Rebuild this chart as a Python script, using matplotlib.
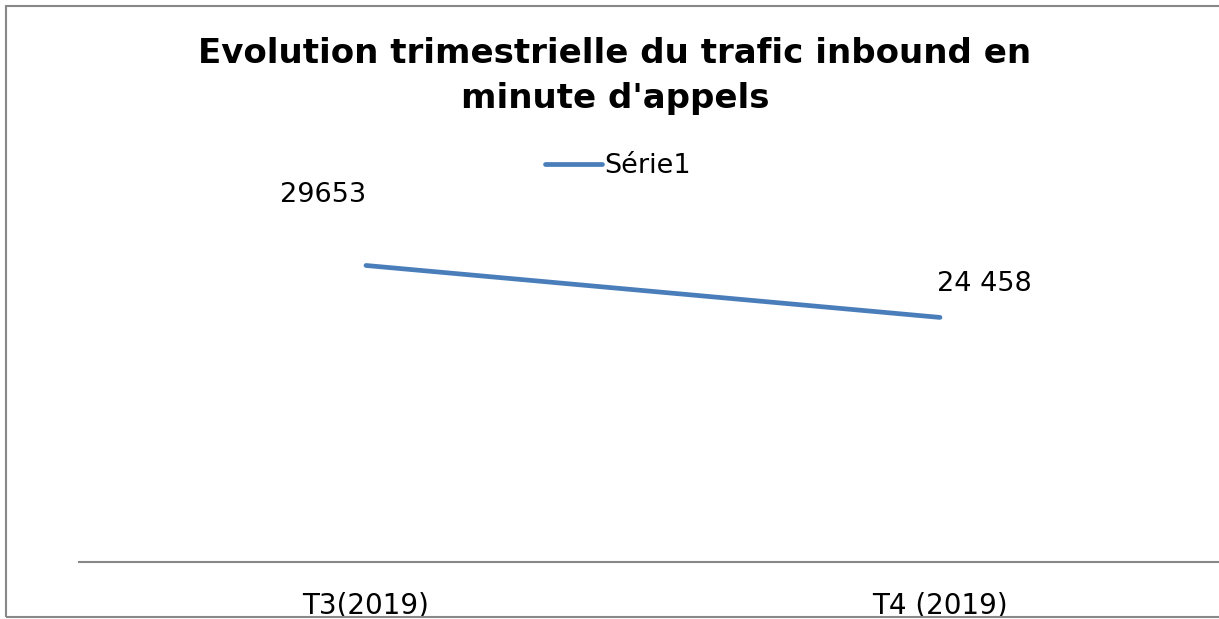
import matplotlib.pyplot as plt
import matplotlib.patches as patches

# données
categories = ['T3(2019)', 'T4 (2019)']
valeurs = [29653, 24458]
etiquettes = ['29653', '24 458']
serie = 'Série1'

W, H = 1219, 619
fig = plt.figure(figsize=(W / 100, H / 100), dpi=100)
plt.rcParams['font.family'] = ['DejaVu Sans']

# cadre du graphique (coupé à droite)
cadre = patches.Rectangle((5.5 / W, 2 / H), 1.0, 611 / H, transform=fig.transFigure,
                          fill=False, edgecolor='#888888', linewidth=1.5, clip_on=False)
fig.patches.append(cadre)

# zone de tracé
ax = fig.add_axes([79 / W, (H - 562) / H, 1148 / W, 350 / H])
ax.set_xlim(-0.5, 1.5)
ax.set_ylim(0, 35000)
ax.set_facecolor('none')

x = list(range(len(categories)))
ax.plot(x, valeurs, color='#4A7EBB', linewidth=3.4, solid_capstyle='round', label=serie)

ax.annotate(etiquettes[0], (x[0], valeurs[0]), xytext=(-31, 51), textcoords='offset points',
            ha='center', va='center', fontsize=19.5)
ax.annotate(etiquettes[1], (x[1], valeurs[1]), xytext=(32, 24), textcoords='offset points',
            ha='center', va='center', fontsize=19.5)

for s in ['top', 'right', 'left']:
    ax.spines[s].set_visible(False)
ax.spines['bottom'].set_color('#888888')
ax.spines['bottom'].set_linewidth(1.5)
ax.spines['bottom'].set_clip_on(False)
ax.set_yticks([])
ax.set_xticks(x)
ax.set_xticklabels(categories, fontsize=20)
ax.tick_params(axis='x', length=0, pad=21)

fig.text(615 / W, 1 - 76 / H, 'Evolution trimestrielle du trafic inbound en\nminute d\'appels',
         ha='center', va='center', fontsize=24.5, fontweight='bold', linespacing=1.45)

ax.legend(loc='center', bbox_to_anchor=(618 / W, 1 - 166 / H), bbox_transform=fig.transFigure,
          frameon=False, fontsize=19.5, handlelength=2.1, handletextpad=0.1)

fig.savefig('out.png', dpi=100)
